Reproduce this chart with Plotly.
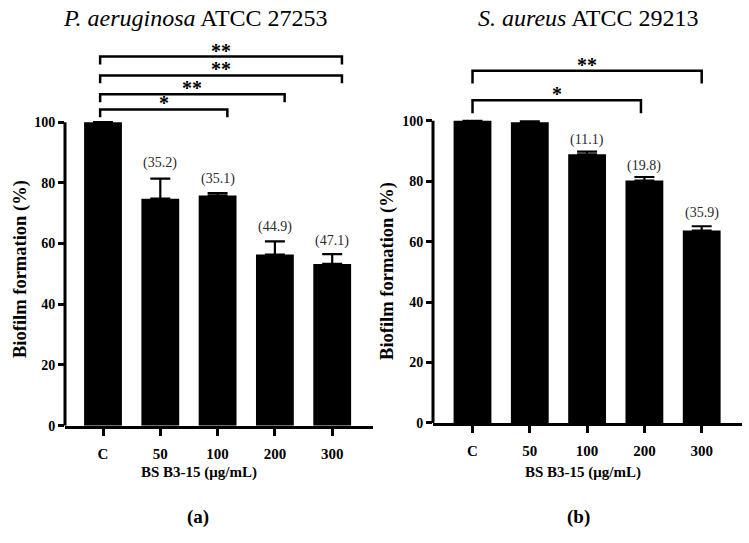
import plotly.graph_objects as go

W, H = 749, 543

categories = ["C", "50", "100", "200", "300"]

# Panel (a) P. aeruginosa
pa_values = [100.0, 74.8, 75.8, 56.4, 53.3]
pa_errors = [0.0, 6.6, 0.8, 4.3, 3.2]
pa_labels = ["", "(35.2)", "(35.1)", "(44.9)", "(47.1)"]
pa_label_y = [0, 86.7, 81.3, 65.3, 61.0]
# brackets: (start idx, end idx, level, stars)
pa_brackets = [(0, 2, 104.2, "*"), (0, 3, 109.2, "**"), (0, 4, 115.4, "**"), (0, 4, 121.6, "**")]

# Panel (b) S. aureus
sa_values = [100.0, 99.5, 88.9, 80.2, 63.7]
sa_errors = [0.0, 0.3, 0.9, 1.2, 1.4]
sa_labels = ["", "", "(11.1)", "(19.8)", "(35.9)"]
sa_label_y = [0, 0, 93.8, 84.9, 69.5]
sa_brackets = [(0, 3, 106.8, "*"), (0, 4, 116.6, "**")]

yticks = [0, 20, 40, 60, 80, 100]

SERIF = "Liberation Serif"

def px_x(p):
    return p / W

def px_y(p):
    return 1 - p / H

fig = go.Figure()

panels = [
    dict(vals=pa_values, errs=pa_errors, labels=pa_labels, ly=pa_label_y, br=pa_brackets,
         xa="x", ya="y", xdom=(65, 373), ybot=432, ytop=35, scale=3.08, c0=103,
         title="<i>P. aeruginosa</i> ATCC 27253", tx=196, ytitle_x=21, ytitle_y=273,
         xtitle_x=199, tag="(a)", tag_x=198, roff=0.17, loff=-0.05, bh=2.6),
    dict(vals=sa_values, errs=sa_errors, labels=sa_labels, ly=sa_label_y, br=sa_brackets,
         xa="x2", ya="y2", xdom=(433, 742), ybot=429.3, ytop=35, scale=3.067, c0=472.5,
         title="<i>S. aureus</i> ATCC 29213", tx=588, ytitle_x=388, ytitle_y=275,
         xtitle_x=583, tag="(b)", tag_x=578, roff=0.0, loff=0.0, bh=4.3),
]

shapes = []
annotations = []
spacing = 57.3

for i, p in enumerate(panels):
    xs = list(range(len(categories)))
    fig.add_trace(go.Bar(
        x=xs, y=p["vals"], width=0.66, marker=dict(color="black", line=dict(width=0)),
        error_y=dict(type="data", array=p["errs"], arrayminus=[0] * 5, symmetric=False,
                     color="black", thickness=2.2, width=10),
        xaxis=p["xa"], yaxis=p["ya"], showlegend=False, hoverinfo="skip"))

    suffix = "" if i == 0 else "2"
    xr0 = (p["xdom"][0] - p["c0"]) / spacing
    xr1 = (p["xdom"][1] - p["c0"]) / spacing
    ymax = (p["ybot"] - p["ytop"]) / p["scale"]
    fig.layout["xaxis" + suffix] = dict(
        domain=[px_x(p["xdom"][0]), px_x(p["xdom"][1])], range=[xr0, xr1],
        tickvals=xs, ticktext=categories, showline=True, linecolor="black", linewidth=3,
        ticks="outside", ticklen=7, tickwidth=2.5, tickcolor="black", ticklabelstandoff=5,
        tickfont=dict(family=SERIF, size=15, color="black", weight="bold"),
        showgrid=False, zeroline=False, anchor="y" + suffix, fixedrange=True)
    fig.layout["yaxis" + suffix] = dict(
        domain=[px_y(p["ybot"]), px_y(p["ytop"])], range=[0, ymax],
        tickvals=yticks, showline=False, ticks="outside", ticklen=6, tickwidth=2.5,
        tickcolor="black", tickfont=dict(family=SERIF, size=14, color="black", weight="bold"),
        showgrid=False, zeroline=False, anchor="x" + suffix, fixedrange=True)

    # y axis line only from 0 to 100
    shapes.append(dict(type="line", xref="x" + suffix + " domain", yref="y" + suffix,
                       x0=0, x1=0, y0=0, y1=100, line=dict(color="black", width=3)))

    # value labels
    for j, lab in enumerate(p["labels"]):
        if lab:
            annotations.append(dict(x=j, y=p["ly"][j], xref="x" + suffix, yref="y" + suffix,
                                    text=lab, showarrow=False,
                                    font=dict(family=SERIF, size=14, color="#2a2a2a")))

    # significance brackets
    for (a, b, lvl, stars) in p["br"]:
        xa0 = a + p["loff"]
        xb0 = b + p["roff"] if (b != 3 or i == 0) else b - 0.06
        path = f"M {xa0},{lvl - p['bh']} L {xa0},{lvl} L {xb0},{lvl} L {xb0},{lvl - p['bh']}"
        shapes.append(dict(type="path", xref="x" + suffix, yref="y" + suffix, path=path,
                           line=dict(color="black", width=2.5)))
        annotations.append(dict(x=(xa0 + xb0) / 2, y=lvl, xref="x" + suffix, yref="y" + suffix,
                                text=stars, showarrow=False, yanchor="middle", yshift=6,
                                font=dict(family=SERIF, size=20, color="black", weight="bold")))

    # titles
    annotations.append(dict(x=px_x(p["tx"]), y=px_y(18), xref="paper", yref="paper",
                            text=p["title"], showarrow=False, xanchor="center", yanchor="middle",
                            font=dict(family=SERIF, size=24, color="black")))
    annotations.append(dict(x=px_x(p["ytitle_x"]), y=px_y(p["ytitle_y"]), xref="paper", yref="paper",
                            text="Biofilm formation (%)", textangle=-90, showarrow=False,
                            xanchor="center", yanchor="middle",
                            font=dict(family=SERIF, size=18.5, color="black", weight="bold")))
    annotations.append(dict(x=px_x(p["xtitle_x"]), y=px_y(480), xref="paper", yref="paper",
                            text="BS B3-15 (μg/mL)", showarrow=False, xanchor="center", yanchor="middle",
                            font=dict(family=SERIF, size=15, color="black", weight="bold")))
    annotations.append(dict(x=px_x(p["tag_x"]), y=px_y(525), xref="paper", yref="paper",
                            text=p["tag"], showarrow=False, xanchor="center", yanchor="middle",
                            font=dict(family=SERIF, size=19, color="black", weight="bold")))

fig.update_layout(width=W, height=H, margin=dict(l=0, r=0, t=0, b=0),
                  paper_bgcolor="white", plot_bgcolor="white", bargap=0.34,
                  shapes=shapes, annotations=annotations)

fig.write_html("out.html", config={"displayModeBar": False},
               post_script="document.body.style.margin='0';")
